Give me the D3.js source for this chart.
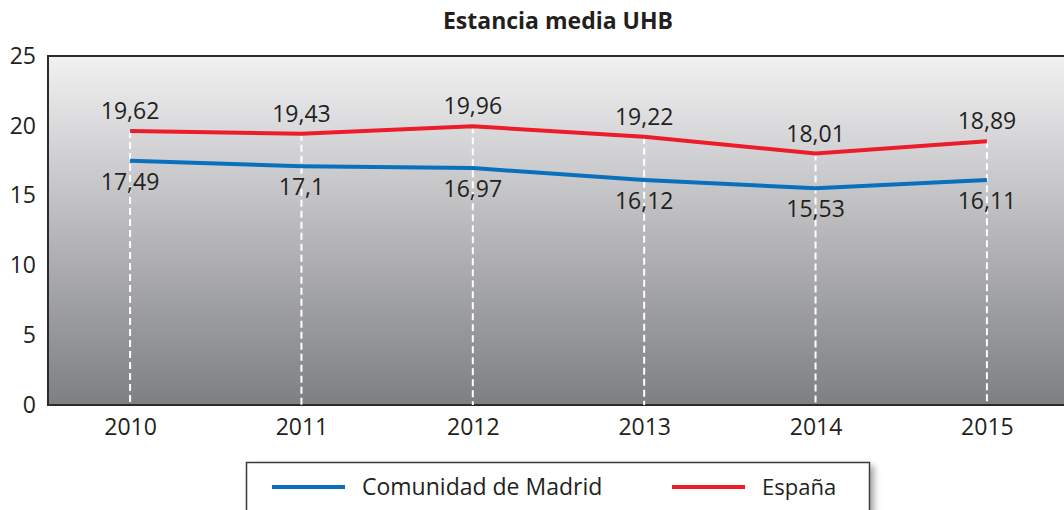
<!DOCTYPE html>
<html>
<head>
<meta charset="utf-8">
<script src="https://cdn.jsdelivr.net/npm/d3@7"></script>
<style>
    body { margin: 0; background: #fff; }
    svg { display: block; font-family: 'Open Sans', sans-serif; }
</style>
</head>
<body>
<svg id="chart" width="1064" height="510"></svg>
<script>
const years = ['2010', '2011', '2012', '2013', '2014', '2015'];
const madrid = [17.49, 17.1, 16.97, 16.12, 15.53, 16.11];
const espana = [19.62, 19.43, 19.96, 19.22, 18.01, 18.89];
const yTicks = [0, 5, 10, 15, 20, 25];
const seriesNames = ['Comunidad de Madrid', 'España'];

const COLORS = { madrid: '#0a6fbd', espana: '#ec1c2a', text: '#231f20', frame: '#2b2b2b' };
const fmt = v => String(v).replace('.', ',');

const svg = d3.select('#chart');

const plot = { left: 48, top: 56, bottom: 405, right: 1069 };

// scales
const x = d3.scalePoint()
    .domain(years)
    .range([plot.left, plot.right])
    .padding(0.479);

const y = d3.scaleLinear()
    .domain([0, 25])
    .range([plot.bottom, plot.top]);

// background gradient
const defs = svg.append('defs');
const grad = defs.append('linearGradient')
    .attr('id', 'bg')
    .attr('x1', 0).attr('y1', 0).attr('x2', 0).attr('y2', 1);
grad.append('stop').attr('offset', '0%').attr('stop-color', '#f1f1f2');
grad.append('stop').attr('offset', '100%').attr('stop-color', '#7e7f83');

const shadow = defs.append('filter').attr('id', 'shadow')
    .attr('x', '-5%').attr('y', '-20%').attr('width', '115%').attr('height', '160%');
shadow.append('feDropShadow')
    .attr('dx', 4).attr('dy', 4).attr('stdDeviation', 3)
    .attr('flood-color', '#000').attr('flood-opacity', 0.35);

svg.append('rect')
    .attr('x', plot.left)
    .attr('y', y(25))
    .attr('width', plot.right - plot.left)
    .attr('height', y(0) - y(25))
    .attr('fill', 'url(#bg)');

// frame (top, left, bottom)
svg.append('path')
    .attr('d', `M${plot.right},${y(25)}H${plot.left}V${y(0)}H${plot.right}`)
    .attr('fill', 'none')
    .attr('stroke', COLORS.frame)
    .attr('stroke-width', 2);

// title
svg.append('text')
    .attr('x', 558)
    .attr('y', 29)
    .attr('text-anchor', 'middle')
    .attr('font-size', 23)
    .attr('font-weight', 'bold')
    .attr('fill', COLORS.text)
    .text('Estancia media UHB');

// y axis labels
const yAxis = d3.axisLeft(y).tickValues(yTicks).tickSize(0).tickPadding(12);
svg.append('g')
    .attr('transform', `translate(${plot.left},0)`)
    .call(yAxis)
    .call(g => g.select('.domain').remove())
    .selectAll('text')
    .attr('font-size', 23)
    .attr('font-family', 'Open Sans, sans-serif')
    .attr('fill', COLORS.text);

// x axis labels
const xAxis = d3.axisBottom(x).tickSize(0).tickPadding(14);
svg.append('g')
    .attr('transform', `translate(0,${plot.bottom})`)
    .call(xAxis)
    .call(g => g.select('.domain').remove())
    .selectAll('text')
    .attr('font-size', 23)
    .attr('font-family', 'Open Sans, sans-serif')
    .attr('fill', COLORS.text);

// dashed drop lines
svg.append('g')
    .selectAll('line')
    .data(years)
    .enter()
    .append('line')
    .attr('x1', d => x(d))
    .attr('x2', d => x(d))
    .attr('y1', (d, i) => y(Math.max(madrid[i], espana[i])))
    .attr('y2', y(0))
    .attr('stroke', '#fff')
    .attr('stroke-width', 2)
    .attr('stroke-dasharray', '7,4');

// lines
const line = d3.line()
    .x((d, i) => x(years[i]))
    .y(d => y(d));

svg.append('path')
    .datum(madrid)
    .attr('d', line)
    .attr('fill', 'none')
    .attr('stroke', COLORS.madrid)
    .attr('stroke-width', 4);

svg.append('path')
    .datum(espana)
    .attr('d', line)
    .attr('fill', 'none')
    .attr('stroke', COLORS.espana)
    .attr('stroke-width', 4);

// value labels
svg.append('g')
    .selectAll('text')
    .data(espana)
    .enter()
    .append('text')
    .attr('x', (d, i) => x(years[i]))
    .attr('y', d => y(d) - 12)
    .attr('text-anchor', 'middle')
    .attr('font-size', 23)
    .attr('fill', COLORS.text)
    .text(d => fmt(d));

svg.append('g')
    .selectAll('text')
    .data(madrid)
    .enter()
    .append('text')
    .attr('x', (d, i) => x(years[i]))
    .attr('y', d => y(d) + 29)
    .attr('text-anchor', 'middle')
    .attr('font-size', 23)
    .attr('fill', COLORS.text)
    .text(d => fmt(d));

// legend
const legend = svg.append('g');
legend.append('rect')
    .attr('x', 246.5)
    .attr('y', 462.5)
    .attr('width', 623)
    .attr('height', 54)
    .attr('fill', '#fff')
    .attr('stroke', '#3a3a3a')
    .attr('stroke-width', 1.5)
    .attr('filter', 'url(#shadow)');

const legendItems = [
    { name: seriesNames[0], color: COLORS.madrid, x: 272 },
    { name: seriesNames[1], color: COLORS.espana, x: 672 }
];

legend.selectAll('line')
    .data(legendItems)
    .enter()
    .append('line')
    .attr('x1', d => d.x)
    .attr('x2', d => d.x + 73)
    .attr('y1', 487)
    .attr('y2', 487)
    .attr('stroke', d => d.color)
    .attr('stroke-width', 4);

legend.selectAll('text')
    .data(legendItems)
    .enter()
    .append('text')
    .attr('x', d => d.x + 90)
    .attr('y', 495)
    .attr('font-size', d => d.x < 500 ? 23 : 22)
    .attr('fill', COLORS.text)
    .text(d => d.name);
</script>
</body>
</html>
